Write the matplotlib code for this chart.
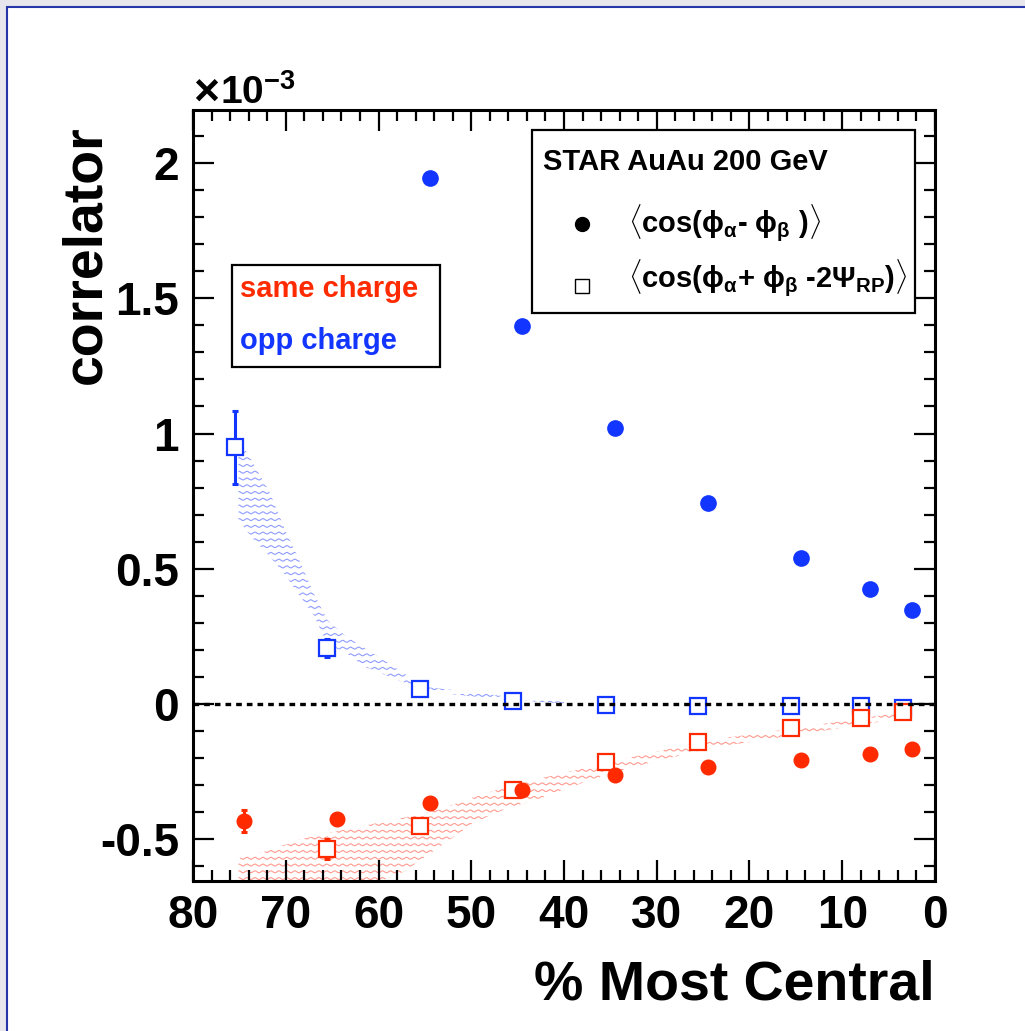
import numpy as np
import matplotlib
matplotlib.use("Agg")
import matplotlib.pyplot as plt
from matplotlib.patches import Rectangle
from matplotlib.lines import Line2D
from matplotlib.ticker import MultipleLocator, FuncFormatter

# correlator values in units of 1e-3, x = % most central
opp_cos_x = [54.5, 44.5, 34.5, 24.5, 14.5, 7.0, 2.5]
opp_cos_y = [1.945, 1.397, 1.020, 0.743, 0.540, 0.425, 0.348]

same_cos_x = [74.5, 64.5, 54.5, 44.5, 34.5, 24.5, 14.5, 7.0, 2.5]
same_cos_y = [-0.433, -0.423, -0.367, -0.318, -0.262, -0.232, -0.207, -0.186, -0.167]
same_cos_err = [0.04, 0.008, 0, 0, 0, 0, 0, 0, 0]

opp_rp_x = [75.5, 65.5, 55.5, 45.5, 35.5, 25.5, 15.5, 8.0, 3.5]
opp_rp_y = [0.949, 0.207, 0.057, 0.012, -0.003, -0.008, -0.008, -0.008, -0.015]
opp_rp_err = [0.135, 0.033, 0, 0, 0, 0, 0, 0, 0]

same_rp_x = [65.5, 55.5, 45.5, 35.5, 25.5, 15.5, 8.0, 3.5]
same_rp_y = [-0.535, -0.450, -0.316, -0.213, -0.140, -0.090, -0.051, -0.031]
same_rp_err = [0.037, 0, 0, 0, 0, 0, 0, 0]

# systematic bands
opp_band_x = [75.1, 73.5, 71.7, 69.9, 68.5, 67.0, 65.5, 63.5, 61.6, 58.0, 56.2, 54.5, 49.0, 45.5, 40.0]
opp_band_hi = [0.98, 0.89, 0.78, 0.63, 0.53, 0.41, 0.31, 0.25, 0.21, 0.13, 0.09, 0.062, 0.040, 0.025, 0.008]
opp_band_lo = [0.68, 0.61, 0.545, 0.47, 0.40, 0.33, 0.22, 0.19, 0.14, 0.09, 0.067, 0.046, 0.025, 0.015, 0.002]

same_band_x = [75.1, 71.7, 68.5, 64.5, 60.9, 57.3, 53.5, 49.8, 46.2, 42.6, 37.2, 31.8, 24.3, 15.3, 8.1, 3.0]
same_band_hi = [-0.57, -0.54, -0.50, -0.47, -0.445, -0.42, -0.39, -0.345, -0.306, -0.275, -0.232, -0.189, -0.133, -0.090, -0.053, -0.028]
same_band_lo = [-0.85, -0.80, -0.76, -0.71, -0.67, -0.62, -0.53, -0.44, -0.386, -0.349, -0.281, -0.226, -0.164, -0.115, -0.078, -0.047]

RED = "#ff2a00"
BLUE = "#1236ff"

plt.rcParams["font.family"] = ["Liberation Sans", "DejaVu Sans"]
plt.rcParams["font.weight"] = "bold"
plt.rcParams["axes.unicode_minus"] = False
plt.rcParams["mathtext.fontset"] = "custom"
plt.rcParams["mathtext.rm"] = "Liberation Sans"
plt.rcParams["mathtext.it"] = "Liberation Sans:italic"
plt.rcParams["mathtext.bf"] = "Liberation Sans:bold"


def wavy_band(ax, x, lo, hi, color):
    # ROOT-like wavy fill pattern, clipped to the band
    poly = ax.fill_between(x, lo, hi, facecolor="none", edgecolor="none", lw=0)
    clip = poly.get_paths()[0]
    xs = np.linspace(0, 80, 1600)
    for y0 in np.arange(min(lo) - 0.02, max(hi) + 0.02, 0.025):
        ln, = ax.plot(xs, y0 + 0.0035 * np.sin(2 * np.pi * xs / 0.86),
                      color=color, lw=0.8, zorder=1)
        ln.set_clip_path(clip, ax.transData)


fig = plt.figure(figsize=(10.25, 10.31), dpi=100)
fig.patch.set_facecolor("#e6e6ec")
fig.add_artist(Rectangle((7 / 1025, -0.01), 1.02, 1 - 7 / 1031 + 0.01,
                         transform=fig.transFigure, facecolor="white",
                         edgecolor="#2436a8", lw=1.5, zorder=0))

ax = fig.add_axes([193 / 1025, 1 - 881 / 1031, 742 / 1025, 771 / 1031])

wavy_band(ax, opp_band_x, opp_band_lo, opp_band_hi, "#8f9cff")
wavy_band(ax, same_band_x, same_band_lo, same_band_hi, "#ff9a8f")

# error bars
ax.errorbar(opp_rp_x, opp_rp_y, yerr=opp_rp_err, fmt="none", ecolor=BLUE,
            elinewidth=2.2, capsize=2.5, capthick=2.2, zorder=2)
ax.errorbar(same_rp_x, same_rp_y, yerr=same_rp_err, fmt="none", ecolor=RED,
            elinewidth=2.2, capsize=2.5, capthick=2.2, zorder=2)
ax.errorbar(same_cos_x, same_cos_y, yerr=same_cos_err, fmt="none", ecolor=RED,
            elinewidth=2.2, capsize=2.5, capthick=2.2, zorder=2)

# open squares
ax.plot(opp_rp_x, opp_rp_y, "s", ms=11, mfc="white", mec=BLUE, mew=1.6, zorder=3)
ax.plot(same_rp_x, same_rp_y, "s", ms=11, mfc="white", mec=RED, mew=1.6, zorder=3)

# zero line
ax.axhline(0, color="black", lw=2.4, ls=(0, (1.7, 1.5)), zorder=4)

# filled circles
ax.plot(same_cos_x, same_cos_y, "o", ms=10.5, color=RED, zorder=5)
ax.plot(opp_cos_x, opp_cos_y, "o", ms=11, color=BLUE, zorder=5)

ax.set_xlim(80, 0)
ax.set_ylim(-0.654, 2.196)

ax.xaxis.set_major_locator(MultipleLocator(10))
ax.xaxis.set_minor_locator(MultipleLocator(2))
ax.yaxis.set_major_locator(MultipleLocator(0.5))
ax.yaxis.set_minor_locator(MultipleLocator(0.1))


def fmt(v, pos):
    s = "%g" % round(v, 3)
    return "0" if s == "-0" else s


ax.xaxis.set_major_formatter(FuncFormatter(fmt))
ax.yaxis.set_major_formatter(FuncFormatter(fmt))

ax.tick_params(which="both", direction="in", top=True, right=True, width=1.6)
ax.tick_params(which="major", length=15)
ax.tick_params(which="minor", length=8)
ax.tick_params(axis="x", pad=9, labelsize=33)
ax.tick_params(axis="y", pad=10, labelsize=33)
for lab in ax.get_xticklabels() + ax.get_yticklabels():
    lab.set_fontweight("bold")
for sp in ax.spines.values():
    sp.set_linewidth(2.2)

ax.set_xlabel("% Most Central", fontsize=40, fontweight="bold", loc="right", labelpad=16)
ax.set_ylabel("correlator", fontsize=40, fontweight="bold", loc="top")
ax.yaxis.set_label_coords(-0.108, 0.98)

fig.text(193 / 1025, 1 - 104 / 1031, r"$\times$", fontsize=32, fontweight="normal",
         va="baseline", ha="left")
fig.text(220 / 1025, 1 - 104 / 1031, r"$\mathbf{10^{-3}}$",
         fontsize=28, va="baseline", ha="left")

# main legend
ax.add_patch(Rectangle((0.457, 0.737), 0.516, 0.237, transform=ax.transAxes,
                       facecolor="white", edgecolor="black", lw=1.6, zorder=6))
ax.text(0.472, 0.922, "STAR AuAu 200 GeV", transform=ax.transAxes,
        fontsize=21, fontweight="bold", va="baseline", zorder=7)
ax.add_line(Line2D([0.524], [0.852], transform=ax.transAxes, marker="o", ms=10,
                   color="black", zorder=7))
ax.add_line(Line2D([0.524], [0.772], transform=ax.transAxes, marker="s", ms=10,
                   mfc="white", mec="black", mew=1.0, zorder=7))
ax.text(0.586, 0.842,
        r"$\langle$cos($\mathrm{\phi}_{\mathrm{\alpha}}$- $\mathrm{\phi}_{\mathrm{\beta}}$ )$\rangle$",
        transform=ax.transAxes, fontsize=21, fontweight="bold", va="baseline", zorder=7)
ax.text(0.586, 0.770,
        r"$\langle$cos($\mathrm{\phi}_{\mathrm{\alpha}}$+ $\mathrm{\phi}_{\mathrm{\beta}}$ -2$\mathrm{\Psi}_{\mathbf{RP}}$)$\rangle$",
        transform=ax.transAxes, fontsize=21, fontweight="bold", va="baseline", zorder=7)

# charge legend
ax.add_patch(Rectangle((0.0526, 0.667), 0.280, 0.132, transform=ax.transAxes,
                       facecolor="white", edgecolor="black", lw=1.6, zorder=6))
ax.text(0.0633, 0.768, "same charge", transform=ax.transAxes, color=RED,
        fontsize=21, fontweight="bold", va="center", zorder=7)
ax.text(0.0633, 0.700, "opp charge", transform=ax.transAxes, color=BLUE,
        fontsize=21, fontweight="bold", va="center", zorder=7)

fig.savefig("out.png", dpi=100)
